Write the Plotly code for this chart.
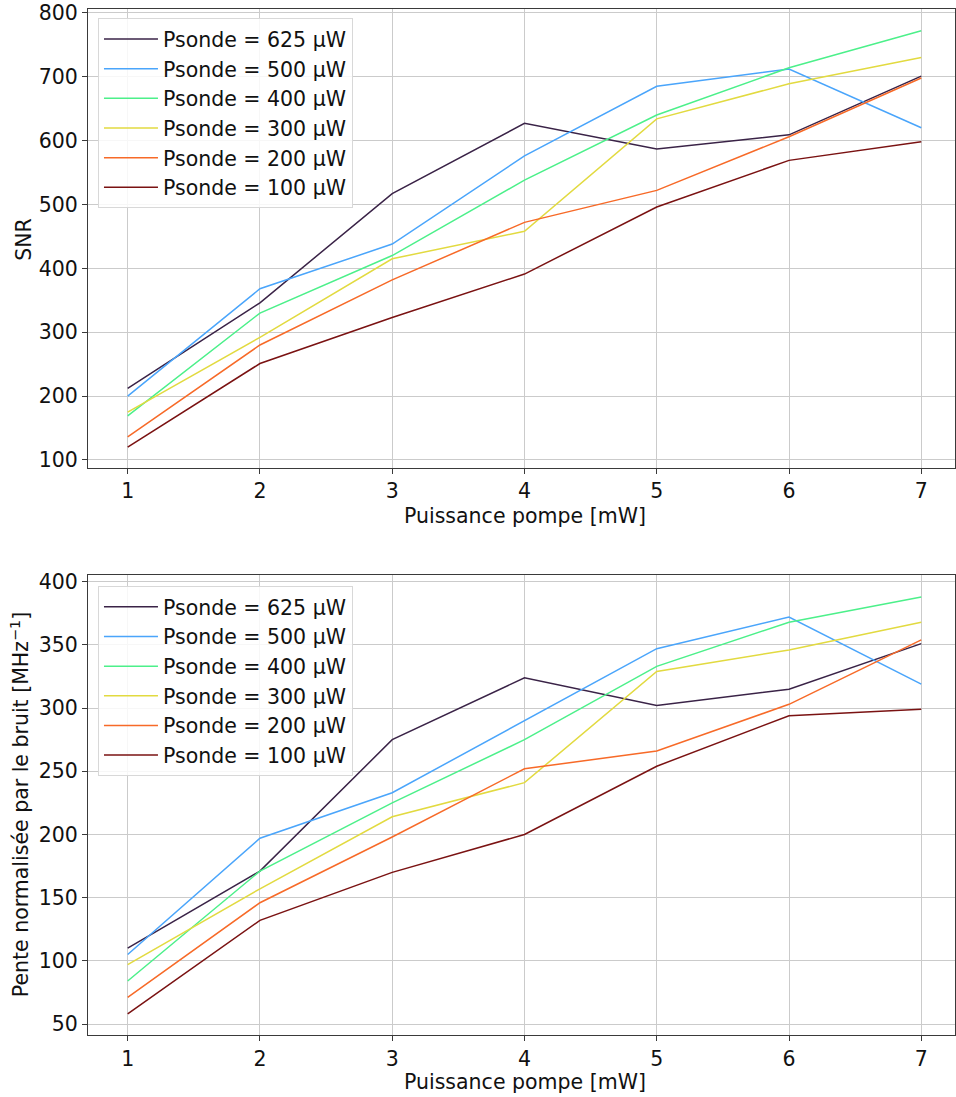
import plotly.graph_objects as go

pompe = [1, 2, 3, 4, 5, 6, 7]
labels = ["Psonde = 625 µW", "Psonde = 500 µW", "Psonde = 400 µW",
          "Psonde = 300 µW", "Psonde = 200 µW", "Psonde = 100 µW"]
colors = ["#3a2347", "#4aa5fb", "#4cf08a", "#e2da40", "#f76a28", "#7a1212"]

snr_625 = [212, 346, 517, 627, 587, 609, 701]
snr_500 = [200, 368, 438, 576, 685, 712, 620]
snr_400 = [169, 330, 420, 538, 640, 714, 772]
snr_300 = [175, 292, 415, 458, 634, 689, 730]
snr_200 = [136, 280, 382, 472, 522, 606, 698]
snr_100 = [120, 251, 323, 391, 496, 569, 598]

pente_625 = [110, 171, 275, 324, 302, 315, 351]
pente_500 = [105, 197, 233, 290, 347, 372, 319]
pente_400 = [84, 171, 225, 275, 333, 368, 388]
pente_300 = [97, 157, 214, 241, 329, 346, 368]
pente_200 = [71, 146, 198, 252, 266, 303, 354]
pente_100 = [58, 132, 170, 200, 254, 294, 299]

snr = [snr_625, snr_500, snr_400, snr_300, snr_200, snr_100]
pente = [pente_625, pente_500, pente_400, pente_300, pente_200, pente_100]

FONT = "DejaVu Sans"
FS = 20.5
fig = go.Figure()
for lab, col, ys in zip(labels, colors, snr):
    fig.add_trace(go.Scatter(x=pompe, y=ys, mode="lines", name=lab,
                             line=dict(color=col, width=1.5),
                             xaxis="x", yaxis="y", legend="legend"))
for lab, col, ys in zip(labels, colors, pente):
    fig.add_trace(go.Scatter(x=pompe, y=ys, mode="lines", name=lab,
                             line=dict(color=col, width=1.5),
                             xaxis="x2", yaxis="y2", legend="legend2"))

axis_common = dict(showgrid=True, gridcolor="#cbcbcb", gridwidth=1,
                   showline=True, linecolor="#3a3a3a", linewidth=1, mirror=True,
                   ticks="outside", ticklen=5, tickcolor="#3a3a3a",
                   tickfont=dict(family=FONT, size=FS, color="#111"),
                   zeroline=False, automargin=False, ticklabeloverflow="allow")

legend_common = dict(font=dict(family=FONT, size=FS, color="#111"),
                     bgcolor="rgba(255,255,255,0.85)", bordercolor="#d8d8d8",
                     borderwidth=1, xanchor="left", yanchor="top",
                     itemwidth=54, tracegroupgap=0)

title_font = dict(family=FONT, size=FS, color="#111")
annotations = [
    dict(text="Puissance pompe [mW]", x=0.504, y=0.506, xref="paper", yref="paper",
         showarrow=False, xanchor="center", yanchor="middle", font=title_font),
    dict(text="Puissance pompe [mW]", x=0.504, y=-0.0458, xref="paper", yref="paper",
         showarrow=False, xanchor="center", yanchor="middle", font=title_font),
    dict(text="SNR", x=-0.0738, y=0.775, xref="paper", yref="paper", textangle=-90,
         showarrow=False, xanchor="center", yanchor="middle", font=title_font),
    dict(text="Pente normalisée par le bruit [MHz<sup>−1</sup>]", x=-0.0784, y=0.224,
         xref="paper", yref="paper", textangle=-90,
         showarrow=False, xanchor="center", yanchor="middle", font=title_font),
]

fig.update_layout(
    width=956, height=1097,
    margin=dict(l=88, r=1, t=9, b=62, autoexpand=False),
    plot_bgcolor="white", paper_bgcolor="white",
    font=dict(family=FONT, size=FS, color="#111"),
    xaxis=dict(axis_common, domain=[0, 1], range=[0.7, 7.255], anchor="y",
               tickvals=pompe),
    yaxis=dict(axis_common, domain=[0.553, 1.0], range=[88, 806], anchor="x",
               tickvals=[100, 200, 300, 400, 500, 600, 700, 800]),
    xaxis2=dict(axis_common, domain=[0, 1], range=[0.7, 7.255], anchor="y2",
                tickvals=pompe),
    yaxis2=dict(axis_common, domain=[0, 0.4483], range=[41.3, 405.3], anchor="x2",
                tickvals=[50, 100, 150, 200, 250, 300, 350, 400]),
    legend=dict(legend_common, x=0.0115, y=0.991),
    legend2=dict(legend_common, x=0.0115, y=0.4376),
    annotations=annotations,
    showlegend=True,
)

fig.write_html("out.html", config={"displayModeBar": False},
               post_script="document.body.style.margin='0';document.body.style.overflow='hidden';")
